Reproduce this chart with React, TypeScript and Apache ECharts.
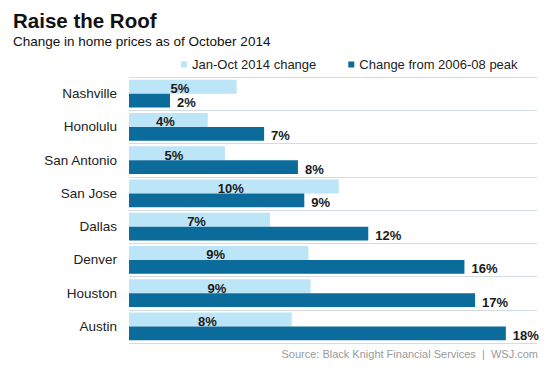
import React, { useEffect, useRef } from "react";
import * as echarts from "echarts";

const cities = ["Nashville", "Honolulu", "San Antonio", "San Jose", "Dallas", "Denver", "Houston", "Austin"];
const ytdChange = [5.25, 3.84, 4.68, 10.23, 6.88, 8.75, 8.86, 7.94];
const fromPeak = [2.0, 6.59, 8.24, 8.55, 11.67, 16.36, 16.88, 18.38];
const seriesNames = ["Jan-Oct 2014 change", "Change from 2006-08 peak"];
const titleText = "Raise the Roof";
const subtitleText = "Change in home prices as of October 2014";
const sourceText = "Source: Black Knight Financial Services  |  WSJ.com";

const FONT = "'Liberation Sans', Arial, Helvetica, sans-serif";

export default function App() {
  const ref = useRef<HTMLDivElement>(null);
  useEffect(() => {
    if (!ref.current) return;
    const chart = echarts.init(ref.current, null, { renderer: "svg" });
    const pct = (p: any) => Math.round(p.value) + "%";
    chart.setOption({
      animation: false,
      backgroundColor: "#ffffff",
      textStyle: { fontFamily: FONT },
      title: {
        text: titleText,
        subtext: subtitleText,
        left: 8,
        top: 5,
        itemGap: 3,
        textStyle: { fontFamily: FONT, fontSize: 20.5, fontWeight: "bold", color: "#111" },
        subtextStyle: { fontFamily: FONT, fontSize: 13.5, color: "#111" },
      },
      legend: {
        data: seriesNames,
        left: 176,
        top: 53,
        icon: "rect",
        itemWidth: 6,
        itemHeight: 6,
        itemGap: 32,
        textStyle: { fontFamily: FONT, fontSize: 13, color: "#222" },
      },
      grid: { left: 129, top: 77, right: 16, bottom: 26, containLabel: false },
      xAxis: {
        type: "value",
        min: 0,
        max: 19.9,
        show: false,
      },
      yAxis: {
        type: "category",
        data: cities,
        inverse: true,
        axisLine: { show: false },
        axisTick: { show: false },
        axisLabel: { fontFamily: FONT, fontSize: 13.5, color: "#222", margin: 12 },
        splitLine: { show: true, lineStyle: { color: "#d3dce4", width: 1 } },
      },
      series: [
        {
          name: seriesNames[0],
          type: "bar",
          data: ytdChange,
          barGap: "0%",
          barCategoryGap: "17%",
          itemStyle: { color: "#bde5f8" },
          label: {
            show: true,
            position: "inside",
            offset: [-3, 2],
            formatter: pct,
            fontFamily: FONT,
            fontSize: 13,
            fontWeight: "bold",
            color: "#1a1a1a",
          },
        },
        {
          name: seriesNames[1],
          type: "bar",
          data: fromPeak,
          barGap: "0%",
          barCategoryGap: "17%",
          itemStyle: { color: "#0b6b9a" },
          label: {
            show: true,
            position: "right",
            distance: 7,
            offset: [0, 2],
            formatter: pct,
            fontFamily: FONT,
            fontSize: 13,
            fontWeight: "bold",
            color: "#1a1a1a",
          },
        },
      ],
      graphic: [
        {
          type: "text",
          right: 15,
          top: 348,
          style: {
            text: sourceText,
            fontFamily: FONT,
            fontSize: 11,
            fill: "#9a9a9a",
          },
        },
      ],
    });
    return () => chart.dispose();
  }, []);
  return <div ref={ref} style={{ position: "fixed", left: 0, top: 0, width: 553, height: 369 }} />;
}
